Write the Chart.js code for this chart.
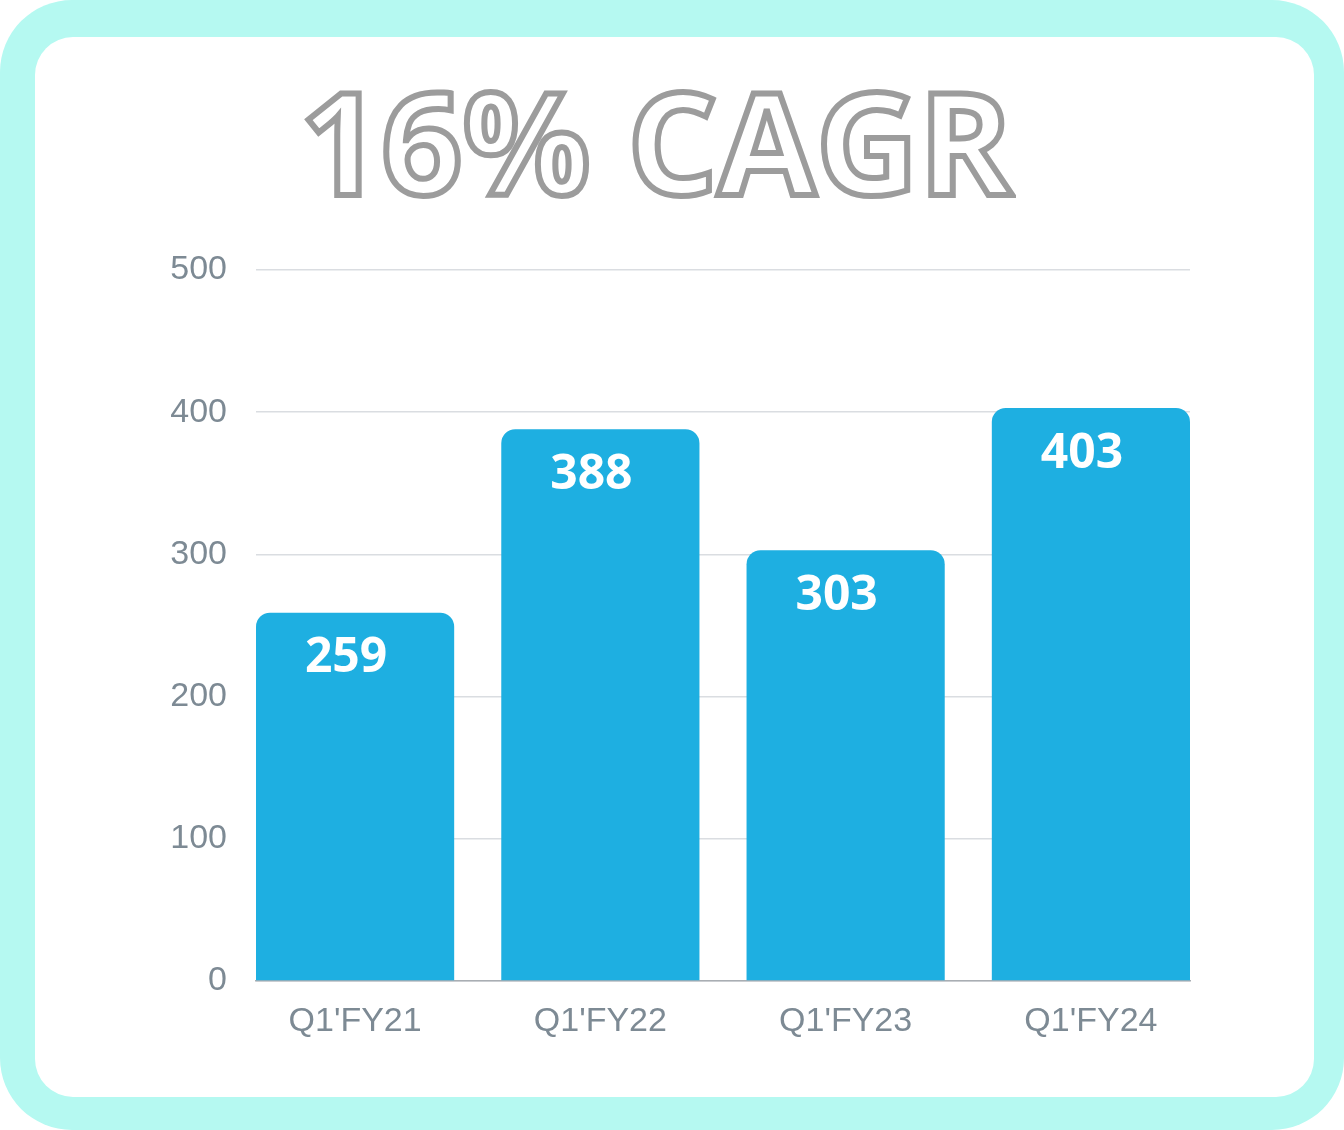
<!DOCTYPE html>
<html>
<head>
<meta charset="utf-8">
<script src="https://cdn.jsdelivr.net/npm/chart.js@4"></script>
<style>
  body { margin: 0; background: #ffffff; }
  #moldura {
    position: absolute; left: 0; top: 0; width: 1344px; height: 1130px;
    background: #b5f9f1; border-radius: 72px;
  }
  #miolo {
    position: absolute; left: 35px; top: 37px; width: 1279px; height: 1060px;
    background: #ffffff; border-radius: 38px;
  }
  #titulo {
    position: absolute; left: 300px; top: 50px; margin: 0;
    font-family: "Open Sans", sans-serif; font-weight: 700; font-size: 142px;
    line-height: 180px; letter-spacing: 0px;
    color: #ffffff; -webkit-text-stroke: 6px #9c9c9c; white-space: nowrap;
  }
  #caixa { position: absolute; left: 0; top: 0; width: 1344px; height: 1130px; }
</style>
</head>
<body>
<div id="moldura"></div>
<div id="miolo"></div>
<div id="caixa"><canvas id="graficoCagr"></canvas></div>
<h1 id="titulo">16% CAGR</h1>
<script>
const trimestres = ["Q1'FY21", "Q1'FY22", "Q1'FY23", "Q1'FY24"];
const valores = [259, 388, 303, 403];
const marcasY = [0, 100, 200, 300, 400, 500];

// escreve o valor dentro do topo de cada barra
const rotulosBarras = {
  id: "rotulosBarras",
  afterDatasetsDraw(chart) {
    const ctx = chart.ctx;
    const meta = chart.getDatasetMeta(0);
    ctx.save();
    ctx.fillStyle = "#ffffff";
    ctx.font = "700 48px 'Open Sans'";
    ctx.textAlign = "center";
    ctx.textBaseline = "middle";
    meta.data.forEach((barra, i) => {
      ctx.fillText(String(valores[i]), barra.x - 9, barra.y + 46);
    });
    ctx.restore();
  },
};

// eixo x numérico: a primeira barra encosta na esquerda e a última na direita
const folga = 0.404;

const ctx = document.getElementById("graficoCagr").getContext("2d");
new Chart(ctx, {
  type: "bar",
  data: {
    datasets: [
      {
        data: valores.map((v, i) => ({ x: i, y: v })),
        backgroundColor: "#1eafe1",
        borderRadius: { topLeft: 14, topRight: 14, bottomLeft: 0, bottomRight: 0 },
        borderSkipped: "bottom",
        barPercentage: 0.808,
        categoryPercentage: 1,
      },
    ],
  },
  options: {
    responsive: true,
    maintainAspectRatio: false,
    animation: false,
    layout: {
      autoPadding: false,
      padding: { left: 100, right: 154, top: 270, bottom: 49 },
    },
    plugins: {
      legend: { display: false },
      tooltip: { enabled: false },
    },
    scales: {
      x: {
        type: "linear",
        offset: false,
        min: -folga,
        max: trimestres.length - 1 + folga,
        afterBuildTicks: (s) => { s.ticks = trimestres.map((t, i) => ({ value: i })); },
        grid: { display: false, drawTicks: false },
        border: { display: true, color: "#a9aeb3", width: 1.5 },
        ticks: {
          color: "#7d8a94",
          font: { family: "'Liberation Sans', Arial", size: 34 },
          padding: 20,
          callback: (v) => trimestres[v],
        },
        afterFit: (s) => { s.height = 100; },
      },
      y: {
        min: 0,
        max: 500,
        afterBuildTicks: (s) => { s.ticks = marcasY.map((v) => ({ value: v })); },
        grid: { color: "#dadde1", lineWidth: 1.5, drawTicks: false },
        border: { display: false },
        ticks: {
          color: "#7d8a94",
          font: { family: "'Liberation Sans', Arial", size: 34 },
          padding: 29,
        },
        afterFit: (s) => { s.width = 156; },
      },
    },
  },
  plugins: [rotulosBarras],
});
</script>
</body>
</html>
